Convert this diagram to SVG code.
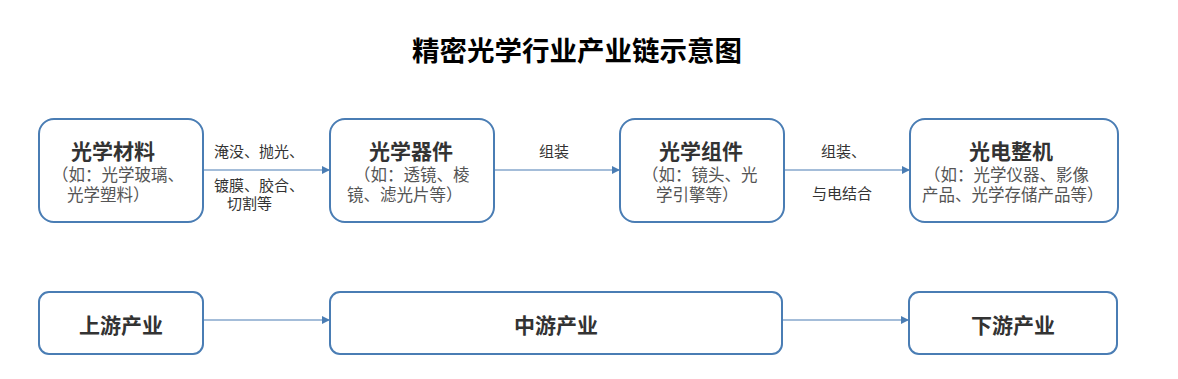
<svg xmlns="http://www.w3.org/2000/svg" width="1178" height="379" viewBox="0 0 1178 379">
<style>
text{font-family:"Noto Sans CJK SC","Noto Sans CJK JP",sans-serif;text-spacing-trim:space-all;}
.box{fill:#fff;stroke:#4a7db4;stroke-width:2;}
.ttl{font-size:21px;font-weight:bold;fill:#333;}
.sub{font-size:16.5px;fill:#555;}
.lbl{font-size:15px;fill:#333;}
.main{font-size:27.5px;font-weight:bold;fill:#000;}
.edge{stroke:#4a7db4;stroke-width:1.2;fill:none;marker-end:url(#arr);}
</style>
<defs>
<marker id="arr" viewBox="0 0 10 10" refX="10" refY="5" markerWidth="8" markerHeight="8" markerUnits="userSpaceOnUse" orient="auto">
<path d="M0,0 L10,5 L0,10 z" fill="#4a7db4"/>
</marker>
</defs>
<rect width="1178" height="379" fill="#fff"/>
<text class="main" x="412" y="61">精密光学行业产业链示意图</text>
<g id="connectors">
<line class="edge" x1="203" y1="170" x2="330" y2="170"/>
<line class="edge" x1="494" y1="170" x2="620" y2="170"/>
<line class="edge" x1="784" y1="170" x2="910" y2="170"/>
<line class="edge" x1="203" y1="320" x2="330" y2="320"/>
<line class="edge" x1="782" y1="320" x2="909" y2="320"/>
<text class="lbl" x="214" y="157">淹没、抛光、</text>
<text class="lbl" x="214" y="191">镀膜、胶合、</text>
<text class="lbl" x="227" y="209">切割等</text>
<text class="lbl" x="539" y="157">组装</text>
<text class="lbl" x="821" y="157">组装、</text>
<text class="lbl" x="812" y="199">与电结合</text>
</g>
<g id="n1">
<rect class="box" x="39" y="119" width="164" height="103" rx="15"/>
<text class="ttl" x="71" y="159">光学材料</text>
<text class="sub" x="52" y="181">（如：光学玻璃、</text>
<text class="sub" x="67" y="201">光学塑料）</text>
</g>
<g id="n2">
<rect class="box" x="330" y="119" width="164" height="103" rx="15"/>
<text class="ttl" x="369" y="159">光学器件</text>
<text class="sub" x="354" y="181">（如：透镜、棱</text>
<text class="sub" x="347" y="201">镜、滤光片等）</text>
</g>
<g id="n3">
<rect class="box" x="620" y="119" width="164" height="103" rx="15"/>
<text class="ttl" x="659" y="159">光学组件</text>
<text class="sub" x="642" y="181">（如：镜头、光</text>
<text class="sub" x="656" y="201">学引擎等）</text>
</g>
<g id="n4">
<rect class="box" x="910" y="119" width="208" height="103" rx="15"/>
<text class="ttl" x="969" y="159">光电整机</text>
<text class="sub" x="924" y="181">（如：光学仪器、影像</text>
<text class="sub" x="922" y="201">产品、光学存储产品等）</text>
</g>
<g id="up">
<rect class="box" x="39" y="292" width="164" height="62" rx="10"/>
<text class="ttl" x="79" y="333">上游产业</text>
</g>
<g id="mid">
<rect class="box" x="330" y="292" width="452" height="62" rx="10"/>
<text class="ttl" x="514" y="333">中游产业</text>
</g>
<g id="down">
<rect class="box" x="909" y="292" width="208" height="62" rx="10"/>
<text class="ttl" x="971" y="333">下游产业</text>
</g>
</svg>
